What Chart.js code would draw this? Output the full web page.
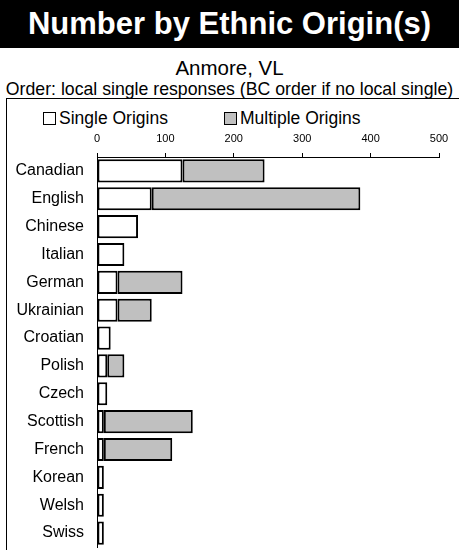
<!DOCTYPE html>
<html>
<head>
<meta charset="utf-8">
<script src="https://cdn.jsdelivr.net/npm/chart.js@4"></script>
<style>
  body { margin: 0; width: 459px; height: 550px; overflow: hidden; background: #fff; font-family: "Liberation Sans", Arial, sans-serif; position: relative; }
  #title { position: absolute; left: 0; top: 0; width: 459px; height: 48px; background: #000; color: #fff; font-weight: bold; font-size: 31px; line-height: 48px; text-align: center; }
  #sub1 { position: absolute; left: 0; top: 56px; width: 459px; text-align: center; font-size: 20.5px; line-height: 24px; }
  #sub2 { position: absolute; left: 0; top: 79px; width: 459px; text-align: center; font-size: 17.7px; line-height: 20px; white-space: nowrap; }
  #box { position: absolute; left: 6px; top: 98px; width: 470px; height: 470px; border-left: 1.5px solid #000; border-top: 1.5px solid #000; }
  #legend { position: absolute; top: 108px; left: 0; width: 459px; font-size: 17.5px; line-height: 20px; }
  .item { position: absolute; top: 0; white-space: nowrap; }
  .sw { display: inline-block; width: 11px; height: 11px; border: 1.2px solid #000; margin-right: 3px; vertical-align: -1px; }
  #wrap { position: absolute; left: 7px; top: 100px; width: 452px; height: 450px; }
</style>
</head>
<body>
<div id="title">Number by Ethnic Origin(s)</div>
<div id="sub1">Anmore, VL</div>
<div id="sub2">Order: local single responses (BC order if no local single)</div>
<div id="box"></div>
<div id="legend">
  <span class="item" style="left:43px"><span class="sw" style="background:#fff"></span>Single Origins</span>
  <span class="item" style="left:224px"><span class="sw" style="background:#c0c0c0"></span>Multiple Origins</span>
</div>
<div id="wrap"><canvas id="chart" width="452" height="450"></canvas></div>
<script>
// カテゴリと値
const origins = ['Canadian', 'English', 'Chinese', 'Italian', 'German', 'Ukrainian', 'Croatian',
  'Polish', 'Czech', 'Scottish', 'French', 'Korean', 'Welsh', 'Swiss'];
const singleOrigins = [125, 80, 60, 40, 30, 30, 20, 15, 15, 10, 10, 10, 10, 10];
const multipleOrigins = [120, 305, 0, 0, 95, 50, 0, 25, 0, 130, 100, 0, 0, 0];
const axisTicks = [0, 100, 200, 300, 400, 500];

Chart.defaults.font.family = '"Liberation Sans", Arial, sans-serif';
Chart.defaults.color = '#000';

new Chart(document.getElementById('chart'), {
  type: 'bar',
  data: {
    labels: origins,
    datasets: [{
      label: 'Single Origins',
      data: singleOrigins,
      backgroundColor: '#fff',
      borderColor: '#000',
      borderWidth: 2,
      borderSkipped: false
    }, {
      label: 'Multiple Origins',
      data: multipleOrigins,
      backgroundColor: '#c0c0c0',
      borderColor: '#000',
      borderWidth: 2,
      borderSkipped: false
    }]
  },
  options: {
    indexAxis: 'y',
    responsive: false,
    animation: false,
    datasets: { bar: { categoryPercentage: 1, barPercentage: 0.83 } },
    layout: { padding: { top: 30, right: 20, bottom: 3, left: 0 } },
    plugins: { legend: { display: false }, tooltip: { enabled: false } },
    scales: {
      x: {
        position: 'top',
        stacked: true,
        min: 0,
        max: 500,
        afterBuildTicks: (scale) => { scale.ticks = axisTicks.map(v => ({ value: v })); },
        afterFit: (scale) => { scale.height = 27; },
        grid: { drawOnChartArea: false, drawTicks: true, tickLength: 4, color: '#000' },
        border: { display: true, color: '#000', width: 1 },
        ticks: { font: { size: 11 }, padding: 7, maxRotation: 0 }
      },
      y: {
        stacked: true,
        afterFit: (scale) => {
          scale.width = 90;
          // ラベル分の上下余白を消す
          scale.paddingTop = 0;
          scale.paddingBottom = 0;
        },
        grid: { drawOnChartArea: false, drawTicks: false },
        border: { display: true, color: '#000', width: 1 },
        ticks: { font: { size: 16 }, padding: 13 }
      }
    }
  }
});
</script>
</body>
</html>
